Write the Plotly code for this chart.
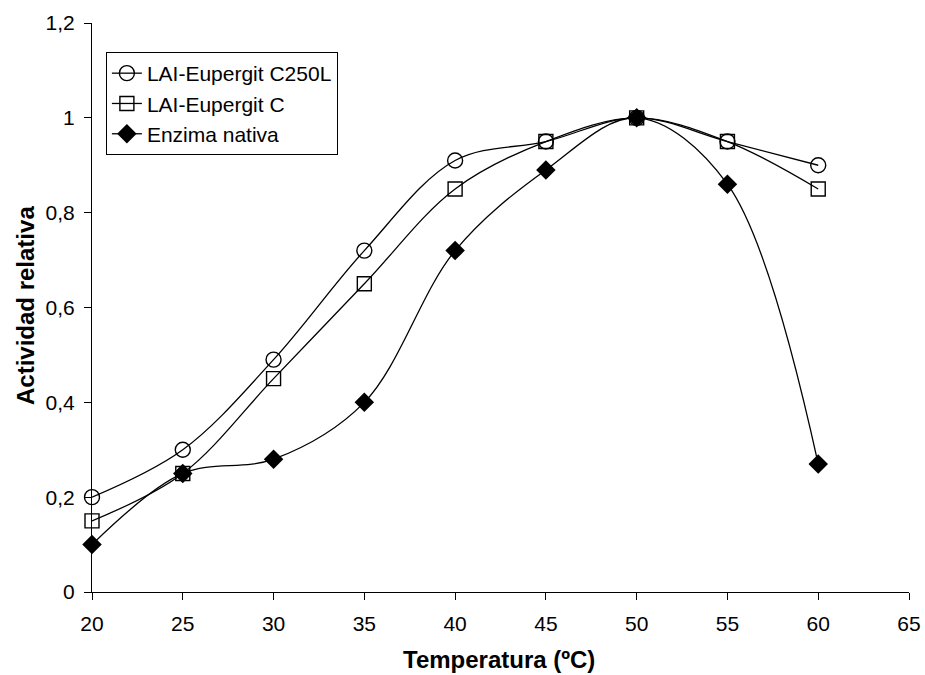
import plotly.graph_objects as go

temperatura = [20, 25, 30, 35, 40, 45, 50, 55, 60]
c250l = [0.20, 0.30, 0.49, 0.72, 0.91, 0.95, 1.00, 0.95, 0.90]
eupergit_c = [0.15, 0.25, 0.45, 0.65, 0.85, 0.95, 1.00, 0.95, 0.85]
nativa = [0.10, 0.25, 0.28, 0.40, 0.72, 0.89, 1.00, 0.86, 0.27]

names = ["LAI-Eupergit C250L", "LAI-Eupergit C", "Enzima nativa"]
x_title = "Temperatura (ºC)"
y_title = "Actividad relativa"

FONT = "Liberation Sans, Arial, sans-serif"

fig = go.Figure()
fig.add_trace(go.Scatter(
    x=temperatura, y=c250l, name=names[0], mode="lines+markers",
    line=dict(color="black", width=1.3, shape="spline", smoothing=1),
    marker=dict(symbol="circle-open", size=15, color="black", line=dict(width=1.4, color="black")),
    cliponaxis=False))
fig.add_trace(go.Scatter(
    x=temperatura, y=eupergit_c, name=names[1], mode="lines+markers",
    line=dict(color="black", width=1.3, shape="spline", smoothing=1),
    marker=dict(symbol="square-open", size=14, color="black", line=dict(width=1.4, color="black")),
    cliponaxis=False))
fig.add_trace(go.Scatter(
    x=temperatura, y=nativa, name=names[2], mode="lines+markers",
    line=dict(color="black", width=1.3, shape="spline", smoothing=1),
    marker=dict(symbol="diamond", size=15, color="black", line=dict(width=0, color="black")),
    cliponaxis=False))

fig.update_layout(
    width=925, height=675,
    margin=dict(l=92, r=16, t=23, b=83, autoexpand=False),
    paper_bgcolor="white", plot_bgcolor="white",
    separators=",.",
    font=dict(family=FONT, size=21, color="black"),
    showlegend=True,
    legend=dict(x=0.017, y=0.949, xanchor="left", yanchor="top",
                bordercolor="black", borderwidth=1, bgcolor="white",
                font=dict(size=21), tracegroupgap=0, itemsizing="trace"),
    xaxis=dict(range=[20, 65], dtick=5, tick0=20, showgrid=False, zeroline=False,
               showline=True, linecolor="black", linewidth=1.2, automargin=False,
               ticks="outside", ticklen=7, tickcolor="black", tickwidth=1.2,
               tickfont=dict(size=21), ticklabelstandoff=6),
    yaxis=dict(range=[0, 1.2], dtick=0.2, tick0=0, showgrid=False, zeroline=False,
               showline=True, linecolor="black", linewidth=1.2, automargin=False,
               ticks="outside", ticklen=7, tickcolor="black", tickwidth=1.2,
               tickfont=dict(size=21), ticklabelstandoff=5),
    annotations=[
        dict(text="<b>" + x_title + "</b>", xref="paper", yref="paper",
             x=0.4985, y=-0.1195, xanchor="center", yanchor="middle",
             showarrow=False, font=dict(size=24)),
        dict(text="<b>" + y_title + "</b>", xref="paper", yref="paper",
             x=-0.082, y=0.5026, xanchor="center", yanchor="middle",
             textangle=-90, showarrow=False, font=dict(size=24)),
    ],
)

fig.write_html("out.html")
